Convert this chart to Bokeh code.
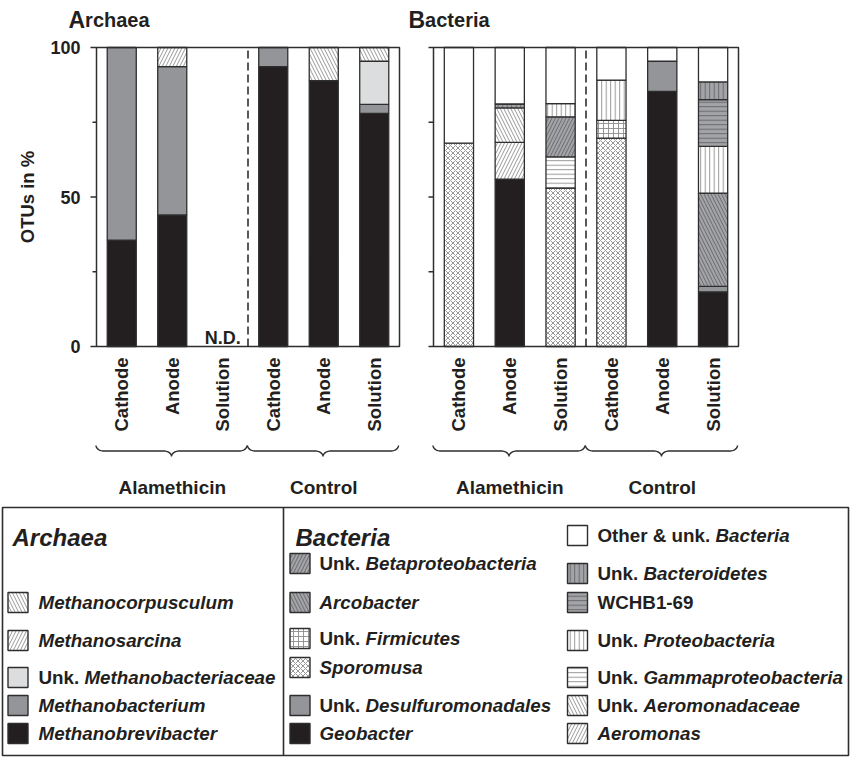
import numpy as np
from bokeh.plotting import figure
from bokeh.models import Range1d
from bokeh.layouts import row, column
from bokeh.embed import file_html
from bokeh.resources import INLINE
from bokeh.core.properties import value

# ---------------- data ----------------
samples = ["Cathode", "Anode", "Solution", "Cathode", "Anode", "Solution"]
treatments = ["Alamethicin", "Control"]
y_major = [0, 50, 100]
y_minor = [25, 75]
y_major_bact = [0, 25, 50, 75, 100]

archaea_taxa = ["Methanobrevibacter", "Methanobacterium", "Unk. Methanobacteriaceae",
                "Methanosarcina", "Methanocorpusculum"]
methanobrevibacter = [35.6, 44.0, 0.0, 93.6, 88.9, 78.0]
methanobacterium = [64.4, 49.6, 0.0, 6.4, 0.0, 3.0]
unk_methanobacteriaceae = [0.0, 0.0, 0.0, 0.0, 0.0, 14.4]
methanosarcina = [0.0, 6.4, 0.0, 0.0, 0.0, 0.0]
methanocorpusculum = [0.0, 0.0, 0.0, 0.0, 11.1, 4.6]
archaea_values = [methanobrevibacter, methanobacterium, unk_methanobacteriaceae,
                  methanosarcina, methanocorpusculum]

bacteria_taxa = ["Geobacter", "Sporomusa", "Unk. Desulfuromonadales", "Aeromonas",
                 "Unk. Aeromonadaceae", "Unk. Firmicutes", "Unk. Gammaproteobacteria",
                 "Unk. Betaproteobacteria", "Arcobacter", "Unk. Proteobacteria",
                 "WCHB1-69", "Unk. Bacteroidetes", "Other & unk. Bacteria"]
geobacter = [0.0, 56.0, 0.0, 0.0, 85.3, 18.3]
sporomusa = [68.0, 0.0, 53.0, 69.7, 0.0, 0.0]
unk_desulfuromonadales = [0.0, 0.0, 0.0, 0.0, 10.1, 1.8]
aeromonas = [0.0, 12.3, 0.0, 0.0, 0.0, 0.0]
unk_aeromonadaceae = [0.0, 11.5, 0.0, 0.0, 0.0, 0.0]
unk_firmicutes = [0.0, 0.0, 0.0, 5.9, 0.0, 0.0]
unk_gammaproteobacteria = [0.0, 0.0, 10.4, 0.0, 0.0, 0.0]
unk_betaproteobacteria = [0.0, 0.0, 13.4, 0.0, 0.0, 0.0]
arcobacter = [0.0, 0.0, 0.0, 0.0, 0.0, 31.2]
unk_proteobacteria = [0.0, 0.0, 4.4, 13.5, 0.0, 15.6]
wchb1_69 = [0.0, 0.0, 0.0, 0.0, 0.0, 15.7]
unk_bacteroidetes = [0.0, 1.3, 0.0, 0.0, 0.0, 5.9]
other_bacteria = [32.0, 18.9, 18.8, 10.9, 4.6, 11.5]
bacteria_values = [geobacter, sporomusa, unk_desulfuromonadales, aeromonas,
                   unk_aeromonadaceae, unk_firmicutes, unk_gammaproteobacteria,
                   unk_betaproteobacteria, arcobacter, unk_proteobacteria,
                   wchb1_69, unk_bacteroidetes, other_bacteria]

# legend layout (order as in the reference legend)
legend_archaea = ["Methanocorpusculum", "Methanosarcina", "Unk. Methanobacteriaceae",
                  "Methanobacterium", "Methanobrevibacter"]
legend_bact1 = ["Unk. Betaproteobacteria", "Arcobacter", "Unk. Firmicutes", "Sporomusa",
                "Unk. Desulfuromonadales", "Geobacter"]
legend_bact2 = ["Other & unk. Bacteria", "Unk. Bacteroidetes", "WCHB1-69",
                "Unk. Proteobacteria", "Unk. Gammaproteobacteria", "Unk. Aeromonadaceae",
                "Aeromonas"]

# ---------------- styles ----------------
FONT = "Liberation Sans"
EDGE = "#2e2e2e"
INK = "#231f20"
BLACK = "#231f20"
GRAY = "#939598"
LIGHT = "#dcddde"
HGRAY = "#a3a4a7"
HW = "#8c8c8c"   # hatch on white
HG = "#626366"   # hatch on gray

STY = {
    "Methanobrevibacter": (BLACK, None, None, 6),
    "Methanobacterium": (GRAY, None, None, 6),
    "Unk. Methanobacteriaceae": (LIGHT, None, None, 6),
    "Methanosarcina": ("white", "right_diagonal_line", HW, 7),
    "Methanocorpusculum": ("white", "left_diagonal_line", HW, 7),
    "Geobacter": (BLACK, None, None, 6),
    "Sporomusa": ("white", "diagonal_cross", HW, 5),
    "Unk. Desulfuromonadales": (GRAY, None, None, 6),
    "Aeromonas": ("white", "right_diagonal_line", HW, 7),
    "Unk. Aeromonadaceae": ("white", "left_diagonal_line", HW, 7),
    "Unk. Firmicutes": ("white", "cross", HW, 5),
    "Unk. Gammaproteobacteria": ("white", "horizontal_line", HW, 4.5),
    "Unk. Betaproteobacteria": (HGRAY, "right_diagonal_line", HG, 7),
    "Arcobacter": (HGRAY, "left_diagonal_line", HG, 7),
    "Unk. Proteobacteria": ("white", "vertical_line", HW, 4.5),
    "WCHB1-69": (HGRAY, "horizontal_line", HG, 4.5),
    "Unk. Bacteroidetes": (HGRAY, "vertical_line", HG, 4.5),
    "Other & unk. Bacteria": ("white", None, None, 6),
}

# Arial/Liberation Sans bold advance widths (per 1000 em)
AW = {' ': 278, '&': 722, '.': 278, '-': 333, '1': 556, '6': 556, '9': 556,
      'A': 722, 'B': 722, 'C': 722, 'H': 722, 'O': 778, 'U': 722, 'W': 944,
      'a': 556, 'b': 611, 'c': 556, 'd': 611, 'e': 556, 'h': 611, 'i': 278,
      'k': 556, 'l': 278, 'm': 889, 'n': 611, 'o': 611, 'r': 389, 's': 556,
      't': 333, 'u': 611}


def tw(s, size):
    return sum(AW.get(c, 556 if c.islower() else 722) for c in s) * size / 1000.0


def txt(p, x, y, s, size, style="bold", align="left", baseline="middle", angle=0.0):
    p.text(x=[x], y=[y], text=[s], text_font=value(FONT), text_font_size=value(size),
           text_font_style=value(style), text_align=value(align),
           text_baseline=value(baseline), angle=angle, text_color=INK)


def split_label(name):
    if name.startswith("Unk. "):
        return "Unk. ", name[5:]
    if name.startswith("Other & unk. "):
        return "Other & unk. ", name[len("Other & unk. "):]
    if name == "WCHB1-69":
        return name, ""
    return "", name


# ---------------- chart figures ----------------
H = 503
N = len(samples)
PER = N // len(treatments)


def chart_fig(W, L, R, T, B):
    ux = (R - L) / N
    uy = (B - T) / 100.0
    p = figure(width=W, height=H,
               x_range=Range1d(-L / ux, N + (W - R) / ux),
               y_range=Range1d(-(H - B) / uy, 100 + T / uy),
               output_backend="svg", toolbar_location=None, min_border=0,
               x_axis_location=None, y_axis_location=None,
               outline_line_color=None, background_fill_color="white",
               border_fill_color="white")
    p.grid.visible = False
    fx = lambda px: (px - L) / ux
    fy = lambda py: (B - py) / uy
    return p, fx, fy, ux, uy


def draw_stack(p, taxa, values):
    xs = np.arange(N) + 0.5
    bottom = np.zeros(N)
    for name, vals in zip(taxa, values):
        v = np.asarray(vals, dtype=float)
        m = v > 0
        fill, hatch, hcol, hscale = STY[name]
        kw = {}
        if hatch:
            kw = dict(hatch_pattern=hatch, hatch_color=hcol, hatch_scale=hscale,
                      hatch_weight=0.9)
        if m.any():
            p.vbar(x=xs[m], bottom=bottom[m], top=(bottom + v)[m], width=0.575,
                   fill_color=fill, line_color=EDGE, line_width=1.3, **kw)
        bottom = bottom + v
    return bottom


def brace(p, x0, x1, ytop, ymid, ytip, rx):
    t = np.linspace(0, np.pi / 2, 14)
    xc = (x0 + x1) / 2
    ax = x0 + rx - rx * np.cos(t)
    ay = ytop - (ytop - ymid) * np.sin(t)
    bx = xc - rx + rx * np.sin(t)
    by = ytip + (ymid - ytip) * np.cos(t)
    cx = (2 * xc - bx)[::-1]
    cy = by[::-1]
    dx = (2 * xc - ax)[::-1]
    dy = ay[::-1]
    xs = np.concatenate([ax, bx, cx, dx])
    ys = np.concatenate([ay, by, cy, dy])
    p.line(xs, ys, line_color=EDGE, line_width=1.4)


def decorate(p, fx, fy, ux, uy, ticks_major, ticks_minor, labels, title, title_px):
    p.quad(left=[0], right=[N], bottom=[0], top=[100], fill_color=None,
           line_color=EDGE, line_width=1.5)
    p.segment(x0=[PER], y0=[0], x1=[PER], y1=[100], line_color=INK, line_width=1.5,
              line_dash="8 4")
    maj_len = 6 / ux if labels else 5 / ux
    p.segment(x0=[0] * len(ticks_major), y0=ticks_major,
              x1=[-maj_len] * len(ticks_major), y1=ticks_major,
              line_color=EDGE, line_width=1.3)
    if ticks_minor:
        p.segment(x0=[0] * len(ticks_minor), y0=ticks_minor,
                  x1=[-4 / ux] * len(ticks_minor), y1=ticks_minor,
                  line_color=EDGE, line_width=1.3)
    if labels:
        p.text(x=[-16 / ux] * len(ticks_major), y=ticks_major,
               text=[str(t) for t in ticks_major], text_font=value(FONT),
               text_font_size=value("18px"), text_font_style=value("bold"),
               text_align=value("right"), text_baseline=value("middle"),
               text_color=INK)
    p.text(x=list(np.arange(N) + 0.5), y=[fy(357)] * N, text=samples,
           text_font=value(FONT), text_font_size=value("18.5px"),
           text_font_style=value("bold"), text_align=value("right"),
           text_baseline=value("middle"), angle=np.pi / 2, text_color=INK)
    for g, name in enumerate(treatments):
        x0, x1 = g * PER, (g + 1) * PER
        brace(p, x0 - 0.5 / ux, x1 - 1.0 / ux, fy(445), fy(450.5), fy(456), 8 / ux)
        txt(p, (x0 + x1) / 2, fy(487), name, "19px", align="center",
            baseline="alphabetic")
    big, rest = title[0], title[1:]
    txt(p, fx(title_px), fy(19), big, "23px", baseline="alphabetic")
    txt(p, fx(title_px + tw(big, 23)), fy(19), rest, "20px", baseline="alphabetic")


# Archaea chart (page x 0..405)
p_arch, fx, fy, ux, uy = chart_fig(405, 96, 399, 47, 346)
tot = draw_stack(p_arch, archaea_taxa, archaea_values)
decorate(p_arch, fx, fy, ux, uy, y_major, y_minor, True, "Archaea", 68)
for i in np.where(tot == 0)[0]:
    txt(p_arch, i + 0.5, fy(337), "N.D.", "18px", align="center", baseline="alphabetic")
txt(p_arch, fx(27), 50, "OTUs in %", "18.5px", align="center", baseline="middle",
    angle=np.pi / 2)

# Bacteria chart (page x 405..850)
p_bact, fx2, fy2, ux2, uy2 = chart_fig(445, 28, 333, 47, 346)
draw_stack(p_bact, bacteria_taxa, bacteria_values)
decorate(p_bact, fx2, fy2, ux2, uy2, y_major_bact, [], False, "Bacteria", 3)

# ---------------- legend (page y 503..757) ----------------
LW, LH = 850, 254
p_leg = figure(width=LW, height=LH, x_range=Range1d(0, LW), y_range=Range1d(LH, 0),
               output_backend="svg", toolbar_location=None, min_border=0,
               x_axis_location=None, y_axis_location=None, outline_line_color=None,
               background_fill_color="white", border_fill_color="white")
p_leg.grid.visible = False
p_leg.quad(left=[2], right=[848], top=[4], bottom=[252], fill_color=None,
           line_color=EDGE, line_width=1.6)
p_leg.segment(x0=[283], y0=[4], x1=[283], y1=[252], line_color=EDGE, line_width=1.6)

SW_SIZE = 20
LFS = 18.8
cols = [
    (legend_archaea, 17.5, 38, [99, 137, 174, 202, 230]),
    (legend_bact1, 299.5, 319, [60, 99, 135, 164, 202, 230]),
    (legend_bact2, 577, 597, [32, 70, 99, 137, 174, 202, 230]),
]
for names, sx, tx0, ys in cols:
    for name, cy in zip(names, ys):
        fill, hatch, hcol, hscale = STY[name]
        kw = {}
        if hatch:
            kw = dict(hatch_pattern=hatch, hatch_color=hcol, hatch_scale=hscale,
                      hatch_weight=0.9)
        p_leg.rect(x=[sx], y=[cy], width=SW_SIZE, height=SW_SIZE, fill_color=fill,
                   line_color=EDGE, line_width=1.4, **kw)
        plain, ital = split_label(name)
        if plain:
            txt(p_leg, tx0, cy, plain, f"{LFS}px", style="bold")
        if ital:
            txt(p_leg, tx0 + tw(plain, LFS), cy, ital, f"{LFS}px", style="bold italic")

txt(p_leg, 12, 34, "Archaea", "24px", style="bold italic", baseline="alphabetic")
txt(p_leg, 295, 34, "Bacteria", "24px", style="bold italic", baseline="alphabetic")

layout = column(row(p_arch, p_bact), p_leg)
open("out.html", "w").write(file_html(layout, INLINE))
